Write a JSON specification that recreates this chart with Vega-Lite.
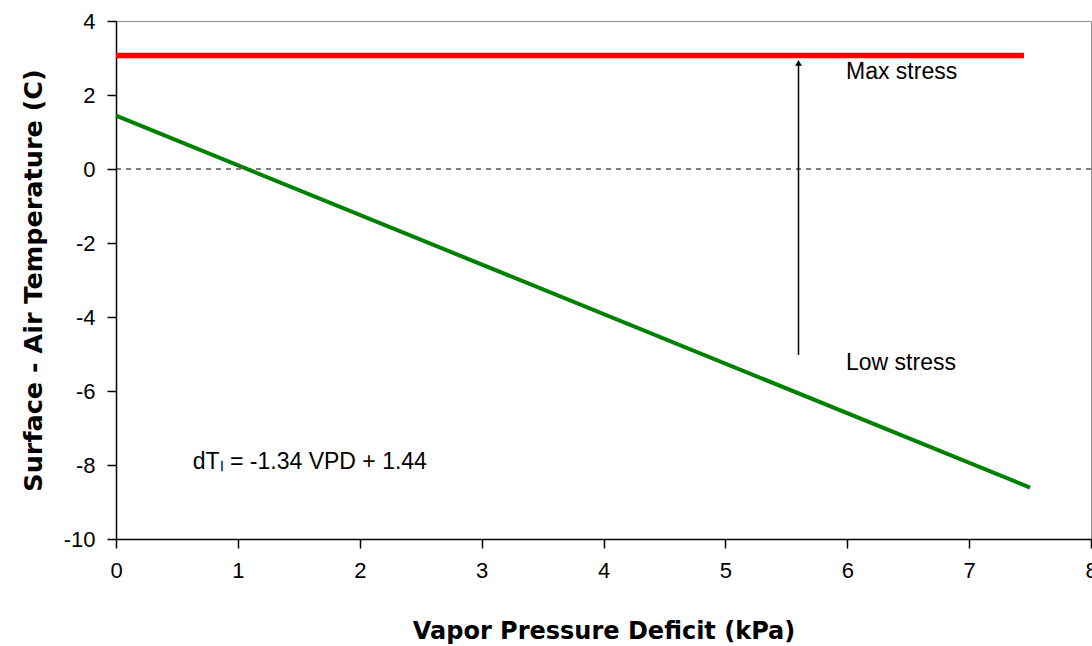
{
  "$schema": "https://vega.github.io/schema/vega-lite/v6.json",
  "width": 975,
  "height": 518,
  "autosize": "none",
  "padding": {"left": 116, "top": 21, "right": 1, "bottom": 107},
  "background": "white",
  "config": {
    "view": {"stroke": "#8c8c8c", "strokeWidth": 1},
    "axis": {
      "labelFont": "Liberation Sans",
      "labelFontSize": 22,
      "labelColor": "#000000",
      "titleFont": "DejaVu Sans",
      "titleFontSize": 24,
      "titleFontWeight": "bold",
      "titleColor": "#000000",
      "domainColor": "#000000",
      "domainWidth": 1.5,
      "tickColor": "#000000",
      "tickWidth": 1.5,
      "tickSize": 9,
      "grid": false
    }
  },
  "datasets": {
    "zero": [{"y": 0}],
    "maxline": [{"vpd": 0, "dt": 3.07}, {"vpd": 7.45, "dt": 3.07}],
    "fit": [{"vpd": 0, "dt": 1.44}, {"vpd": 7.5, "dt": -8.61}],
    "arrow": [{"vpd": 5.6, "dt": -5.03, "dt2": 2.85}],
    "head": [{"vpd": 5.6, "dt": 2.87}],
    "labels": [
      {"vpd": 5.99, "dt": 2.62, "text": "Max stress"},
      {"vpd": 5.99, "dt": -5.23, "text": "Low stress"},
      {"vpd": 0.63, "dt": -7.93, "text": "dTₗ = -1.34 VPD + 1.44"}
    ]
  },
  "layer": [
    {
      "data": {"name": "zero"},
      "mark": {"type": "rule", "color": "#000000", "strokeDash": [5, 5], "strokeWidth": 1.2},
      "encoding": {
        "y": {"field": "y", "type": "quantitative", "scale": {"domain": [-10, 4], "nice": false}}
      }
    },
    {
      "data": {"name": "maxline"},
      "mark": {"type": "line", "color": "#ff0000", "strokeWidth": 5.5},
      "encoding": {
        "x": {"field": "vpd", "type": "quantitative", "scale": {"domain": [0, 8], "nice": false},
              "axis": {"values": [0,1,2,3,4,5,6,7,8], "labelExpr": "'' + datum.value", "labelFlush": false, "title": "Vapor Pressure Deficit (kPa)", "labelPadding": 12, "titlePadding": 38}},
        "y": {"field": "dt", "type": "quantitative", "scale": {"domain": [-10, 4], "nice": false},
              "axis": {"values": [-10,-8,-6,-4,-2,0,2,4], "labelExpr": "'' + datum.value", "labelFlush": false, "title": "Surface - Air Temperature (C)", "titleFontSize": 25.5, "labelPadding": 12, "titlePadding": 17}}
      }
    },
    {
      "data": {"name": "fit"},
      "mark": {"type": "line", "color": "#008000", "strokeWidth": 4},
      "encoding": {
        "x": {"field": "vpd", "type": "quantitative"},
        "y": {"field": "dt", "type": "quantitative"}
      }
    },
    {
      "data": {"name": "arrow"},
      "mark": {"type": "rule", "color": "#000000", "strokeWidth": 1.5},
      "encoding": {
        "x": {"field": "vpd", "type": "quantitative"},
        "y": {"field": "dt", "type": "quantitative"},
        "y2": {"field": "dt2"}
      }
    },
    {
      "data": {"name": "head"},
      "mark": {"type": "point", "shape": "triangle-up", "filled": true, "color": "#000000", "size": 45, "opacity": 1},
      "encoding": {
        "x": {"field": "vpd", "type": "quantitative"},
        "y": {"field": "dt", "type": "quantitative"}
      }
    },
    {
      "data": {"name": "labels"},
      "mark": {"type": "text", "align": "left", "baseline": "middle", "font": "Liberation Sans", "fontSize": 23, "color": "#000000"},
      "encoding": {
        "x": {"field": "vpd", "type": "quantitative"},
        "y": {"field": "dt", "type": "quantitative"},
        "text": {"field": "text"}
      }
    }
  ]
}
